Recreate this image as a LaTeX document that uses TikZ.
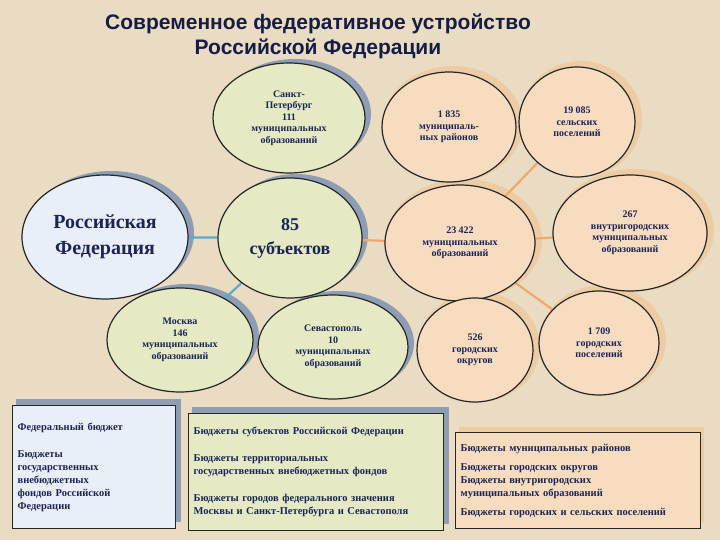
\documentclass[tikz,border=0pt]{standalone}
\usepackage{fontspec}
\setmainfont{Liberation Serif}
\newfontfamily\titlefont{Liberation Sans}
\usetikzlibrary{shapes.geometric}
\pgfdeclarelayer{back}
\pgfdeclarelayer{mid}
\pgfsetlayers{back,mid,main}
\definecolor{bg}{HTML}{EADCC3}
\definecolor{ink}{HTML}{1C2456}
\definecolor{grn}{HTML}{E5EAC4}
\definecolor{blu}{HTML}{E9EFF9}
\definecolor{org}{HTML}{F8DCC0}
\definecolor{shb}{HTML}{8E9DB4}
\definecolor{sho}{HTML}{EFC28F}
\definecolor{lnb}{HTML}{5AAAC8}
\definecolor{lno}{HTML}{F0A868}
\tikzset{
 ell/.style={ellipse, draw=black!85, line width=1.2pt, align=center, font=\bfseries\fontsize{10}{11.5}\selectfont, text=ink, inner sep=0pt},
 bline/.style={lnb, line width=2.2pt},
 oline/.style={lno, line width=2.2pt},
 box/.style={draw=black!85, line width=1.2pt, anchor=north west, align=left, text=ink, font=\bfseries\fontsize{10.5}{13}\selectfont, inner sep=5pt},
}
\begin{document}
\begin{tikzpicture}[x=1pt,y=-1pt]
\begin{pgfonlayer}{back}
\fill[bg] (0,0) rectangle (720,540);
\foreach \cx/\cy/\rx/\ry in {105/237/83/62, 289/118/76/55, 290/238/72/60, 180/340/73/52, 333/347/75/52}{
 \fill[shb] (\cx+6,\cy-4) ellipse [x radius=\rx, y radius=\ry];}
\foreach \cx/\cy/\rx/\ry in {449/127/67/55, 577/122/58/55, 460/243/75/58, 630/233/77/58, 475/350/58/52, 599/343/60/52}{
 \fill[sho, opacity=.6] (\cx+4,\cy-3) ellipse [x radius=\rx+3, y radius=\ry+3];}
\fill[shb] (16,399) rectangle (181,522);
\fill[shb] (192,407) rectangle (449,524);
\fill[sho, opacity=.6] (459,427) rectangle (704,522);
\end{pgfonlayer}
\useasboundingbox (0,0) rectangle (720,540);
\node[font=\titlefont\bfseries\fontsize{21}{25}\selectfont, text=ink!80!black, align=center] (title) at (318,36) {Современное федеративное устройство\\Российской Федерации};
\node[ell, fill=blu, minimum width=166pt, minimum height=124pt, font=\bfseries\fontsize{20}{26}\selectfont] (rf) at (105,237) {Российская\\Федерация};
\node[ell, fill=grn, minimum width=144pt, minimum height=120pt, font=\bfseries\fontsize{18}{24}\selectfont] (s85) at (290,238) {85\\субъектов};
\node[ell, fill=org, minimum width=150pt, minimum height=116pt] (m23) at (460,243) {23 422\\муниципальных\\образований};
\node[ell, fill=grn, minimum width=152pt, minimum height=110pt] (spb) at (289,118) {Санкт-\\Петербург\\111\\муниципальных\\образований};
\node[ell, fill=grn, minimum width=146pt, minimum height=104pt] (msk) at (180,340) {Москва\\146\\муниципальных\\образований};
\node[ell, fill=grn, minimum width=150pt, minimum height=104pt] (sev) at (333,347) {Севастополь\\10\\муниципальных\\образований};
\node[ell, fill=org, minimum width=134pt, minimum height=110pt] (r1835) at (449,127) {1 835\\муниципаль-\\ных районов};
\node[ell, fill=org, minimum width=116pt, minimum height=110pt] (p19) at (577,122) {19 085\\сельских\\поселений};
\node[ell, fill=org, minimum width=154pt, minimum height=116pt] (v267) at (630,233) {267\\внутригородских\\муниципальных\\образований};
\node[ell, fill=org, minimum width=116pt, minimum height=104pt] (o526) at (475,350) {526\\городских\\округов};
\node[ell, fill=org, minimum width=120pt, minimum height=104pt] (g1709) at (599,343) {1 709\\городских\\поселений};
\begin{pgfonlayer}{mid}
\draw[bline] (rf) -- (s85);
\draw[bline] (s85) -- (msk);
\draw[bline] (s85) -- (sev);
\draw[oline] (s85) -- (m23);
\draw[oline] (m23) -- (p19);
\draw[oline] (m23) -- (v267);
\draw[oline] (m23) -- (g1709);
\end{pgfonlayer}
\node[box, fill=blu, text width=153pt, minimum height=123pt] (b1) at (12,405) {Федеральный бюджет\\[14pt]Бюджеты\\государственных\\внебюджетных\\фондов Российской\\Федерации};
\node[box, fill=grn, text width=245pt, minimum height=117pt] (b2) at (188,413) {Бюджеты субъектов Российской Федерации\\[14pt]Бюджеты территориальных\\государственных внебюджетных фондов\\[14pt]Бюджеты городов федерального значения\\Москвы и Санкт-Петербурга и Севастополя};
\node[box, fill=org, text width=235pt, minimum height=96pt] (b3) at (455,432) {Бюджеты муниципальных районов\\[6pt]Бюджеты городских округов\\Бюджеты внутригородских\\муниципальных образований\\[6pt]Бюджеты городских и сельских поселений};
\end{tikzpicture}
\end{document}
